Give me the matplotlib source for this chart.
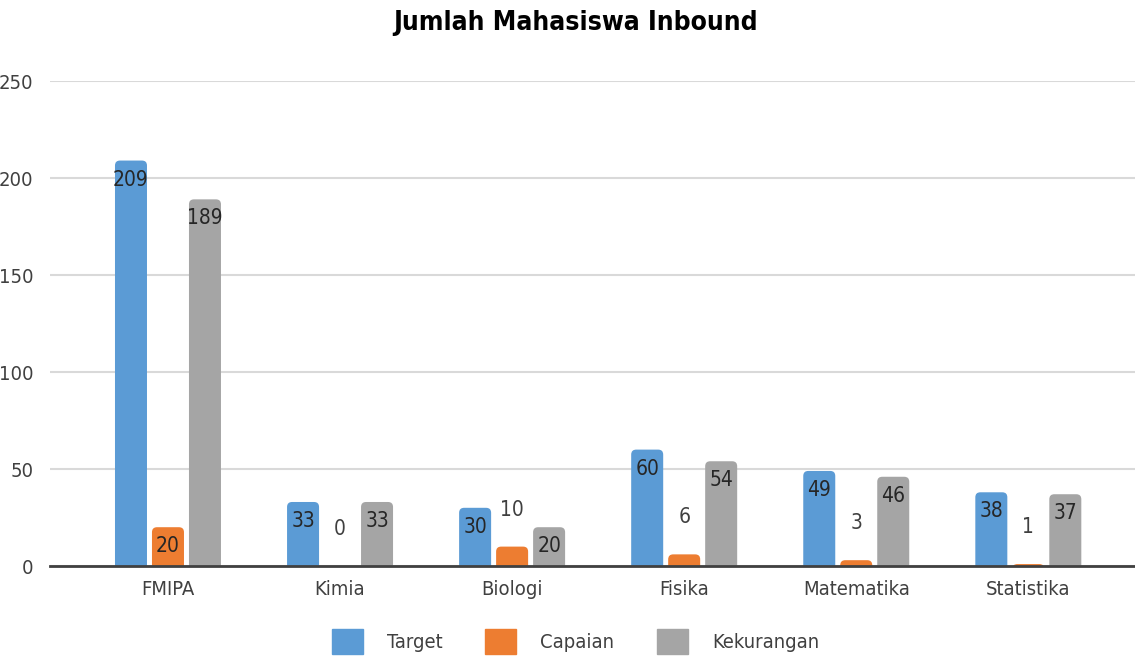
import os
import matplotlib
matplotlib.use('Agg')
import matplotlib.pyplot as plt
from matplotlib import font_manager as fm
from matplotlib.patches import FancyBboxPatch
import numpy as np

categories = ['FMIPA', 'Kimia', 'Biologi', 'Fisika', 'Matematika', 'Statistika']
target = [209, 33, 30, 60, 49, 38]
capaian = [20, 0, 10, 6, 3, 1]
kekurangan = [189, 33, 20, 54, 46, 37]
series_names = ['Target', 'Capaian', 'Kekurangan']
colors = ['#5B9BD5', '#ED7D31', '#A5A5A5']
yticks = [0, 50, 100, 150, 200, 250]


# look for a condensed face, the original uses a narrow font
def find_font(names):
    files = {os.path.basename(f.fname): f.fname for f in fm.fontManager.ttflist}
    for n in names:
        if n in files:
            return files[n]
    return None


reg_file = find_font(['NotoSans-ExtraCondensed.ttf', 'NotoSans-Condensed.ttf',
                      'DejaVuSansCondensed.ttf', 'LiberationSansNarrow-Regular.ttf',
                      'RobotoCondensed-Regular.ttf'])
bold_file = find_font(['NotoSans-ExtraCondensedBold.ttf', 'NotoSans-CondensedBold.ttf',
                       'DejaVuSansCondensed-Bold.ttf', 'LiberationSansNarrow-Bold.ttf',
                       'RobotoCondensed-Bold.ttf'])

if reg_file:
    fp = fm.FontProperties(fname=reg_file)
    fsize = 14.5
else:
    fp = fm.FontProperties(family='DejaVu Sans')
    fsize = 12
if bold_file:
    fpb = fm.FontProperties(fname=bold_file)
    tsize = 19
else:
    fpb = fm.FontProperties(family='DejaVu Sans', weight='bold')
    tsize = 16

text_color = '#404040'

fig = plt.figure(figsize=(11.35, 6.57), dpi=100)
ax = fig.add_axes([0.044, 0.1385, 0.956, 0.7382])

x = np.arange(len(categories))
width = 0.186
offset = 0.215

ax.set_xlim(-0.686, 5.62)
ax.set_ylim(0, 250)

# px -> data scale, used for rounded corners
px_x = 6.306 / 1085
px_y = 250 / 485
asp = px_y / px_x
rad = 5 * px_x

for k, (vals, c, name) in enumerate(zip([target, capaian, kekurangan], colors, series_names)):
    bars = ax.bar(x + (k - 1) * offset, vals, width, color=c, label=name)
    for rect, v in zip(bars, vals):
        rect.set_visible(False)
        if v > 0:
            # extend below zero so the bottom rounding is clipped away
            p = FancyBboxPatch((rect.get_x(), -6 * px_y), rect.get_width(), v + 6 * px_y,
                               boxstyle=f'round,pad=0,rounding_size={rad}',
                               mutation_aspect=asp, facecolor=c, edgecolor='none',
                               zorder=2, clip_on=True)
            ax.add_patch(p)
        # value labels: inside the top, or above when the bar is too short
        if v / px_y < 30:
            ax.annotate(str(v), (rect.get_x() + rect.get_width() / 2, v),
                        xytext=(0, 37 * 0.72), textcoords='offset points',
                        ha='center', va='center', fontproperties=fp, fontsize=15,
                        color=text_color)
        else:
            ax.annotate(str(v), (rect.get_x() + rect.get_width() / 2, v),
                        xytext=(0, -19 * 0.72), textcoords='offset points',
                        ha='center', va='center', fontproperties=fp, fontsize=15,
                        color='#262626', zorder=3)

ax.set_yticks(yticks)
ax.set_xticks(x)
ax.set_xticklabels(categories)
for lab in ax.get_xticklabels() + ax.get_yticklabels():
    lab.set_fontproperties(fp)
    lab.set_fontsize(fsize)
ax.tick_params(axis='both', length=0, colors=text_color)
ax.tick_params(axis='y', pad=12)
ax.tick_params(axis='x', pad=10)
ax.grid(axis='y', color='#D9D9D9', linewidth=1.5, zorder=0)
ax.set_axisbelow(True)
for s in ['top', 'right', 'left']:
    ax.spines[s].set_visible(False)
ax.spines['bottom'].set_color('#404040')
ax.spines['bottom'].set_linewidth(2)

fig.suptitle('Jumlah Mahasiswa Inbound', x=0.507, y=0.985, fontproperties=fpb,
             fontsize=tsize, color='black')

handles = [plt.Rectangle((0, 0), 1, 1, color=c) for c in colors]
leg_fp = fp.copy()
leg_fp.set_size(fsize)
fig.legend(handles, series_names, loc='center', bbox_to_anchor=(0.507, 0.024),
           ncol=3, frameon=False, prop=leg_fp, labelcolor=text_color,
           handlelength=1.55, handleheight=1.55, handletextpad=1.2, columnspacing=2.1)

fig.savefig('out.png', dpi=100)
